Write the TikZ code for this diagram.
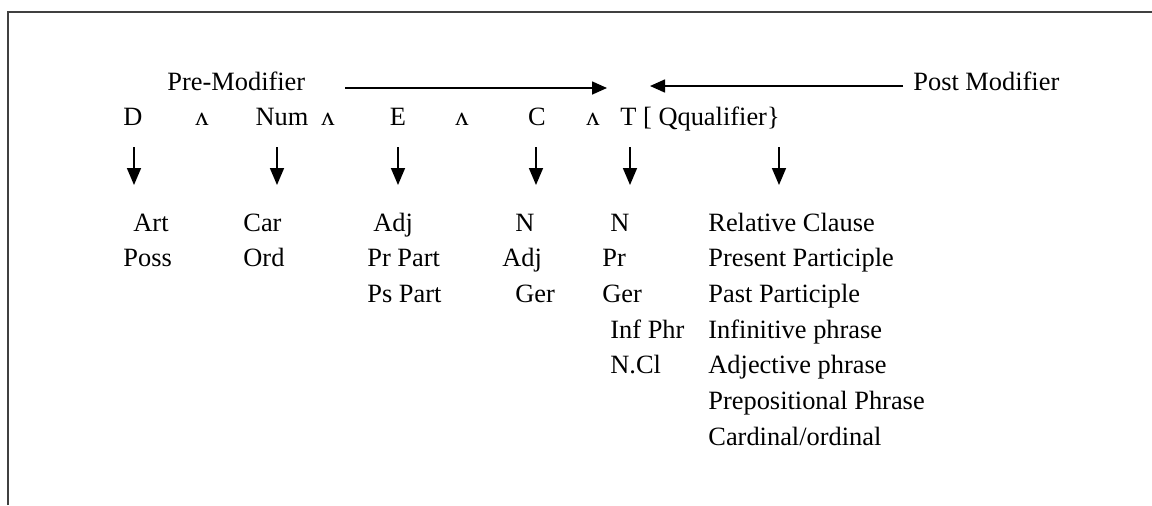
\documentclass[tikz,border=0pt]{standalone}
\usepackage{fontspec}
\setmainfont{Liberation Serif}
\usetikzlibrary{arrows.meta,positioning}

\tikzset{
  word/.style={inner sep=0pt, anchor=base, font=\fontsize{13.2}{16}\selectfont},
  item/.style={word, anchor=base west},
  downarrow/.style={line width=0.8pt, -{Triangle[length=8.5pt,width=7pt]}},
  sidearrow/.style={line width=0.8pt, -{Triangle[length=7.5pt,width=6.5pt]}},
}

\begin{document}
\begin{tikzpicture}[x=0.5pt,y=-0.5pt]
  \useasboundingbox (0,0) rectangle (1152,505);
  % frame, open at the right and at the bottom
  \draw[line width=1.1pt, black!75] (8,505) -- (8,12) -- (1152,12);

  % the two modifier labels and their arrows
  \node[item] (pre) at (167,90) {Pre-Modifier};
  \node[item] (post) at (913,90) {Post Modifier};
  \coordinate (pre end) at (345,88);
  \coordinate (head left) at (607,88);
  \coordinate (head right) at (650,86);
  \coordinate (post end) at (903,86);
  \draw[sidearrow] (pre end) -- (head left);
  \draw[sidearrow] (post end) -- (head right);

  % the formula
  \node[word] (d) at (133,125) {D};
  \node[word] (num) at (282,125) {Num};
  \node[word] (e) at (398,125) {E};
  \node[word] (c) at (537,125) {C};
  \node[item] (tq) at (620,125) {T [ Qqualifier\}};
  \foreach \x [count=\i] in {202,328,462,593}
    \node[word] (and\i) at (\x,125) {ʌ};

  % arrows down to the lists
  \foreach \n/\x in {d/134, num/277, e/398, c/536, t/630, q/779} {
    \coordinate (\n top) at (\x,147);
    \coordinate (\n tip) at (\x,185);
    \draw[downarrow] (\n top) -- (\n tip);
  }

  % the lists
  \foreach \x/\t [count=\i] in {133/Art, 123/Poss}
    \node[item] (d\i) at (\x,{231+35.7*(\i-1)}) {\t};
  \foreach \x/\t [count=\i] in {243/Car, 243/Ord}
    \node[item] (num\i) at (\x,{231+35.7*(\i-1)}) {\t};
  \foreach \x/\t [count=\i] in {373/Adj, 367/Pr Part, 367/Ps Part}
    \node[item] (e\i) at (\x,{231+35.7*(\i-1)}) {\t};
  \foreach \x/\t [count=\i] in {515/N, 502/Adj, 515/Ger}
    \node[item] (c\i) at (\x,{231+35.7*(\i-1)}) {\t};
  \foreach \x/\t [count=\i] in {610/N, 602/Pr, 602/Ger, 610/Inf Phr, 610/N.Cl}
    \node[item] (t\i) at (\x,{231+35.7*(\i-1)}) {\t};
  \foreach \t [count=\i] in {Relative Clause, Present Participle, Past Participle,
      Infinitive phrase, Adjective phrase, Prepositional Phrase, Cardinal/ordinal}
    \node[item] (q\i) at (708,{231+35.7*(\i-1)}) {\t};
\end{tikzpicture}
\end{document}
